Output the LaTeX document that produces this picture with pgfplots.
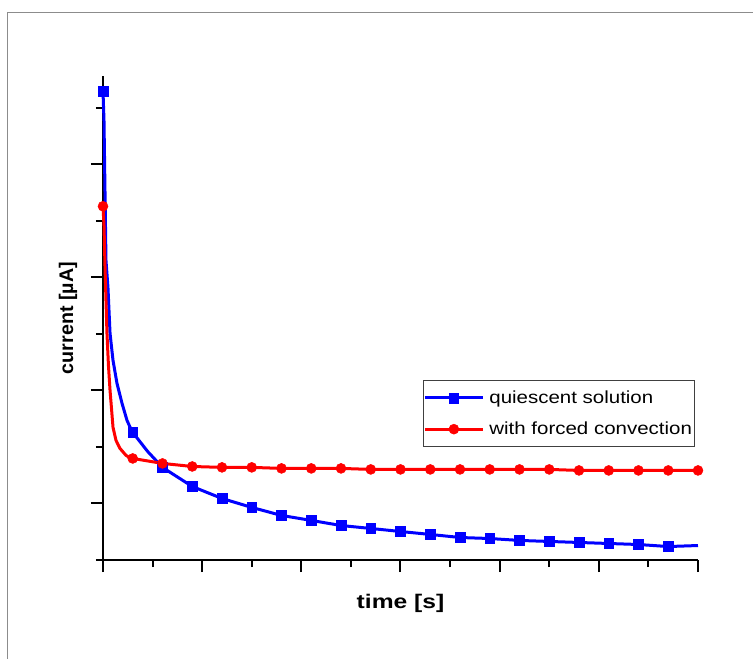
\documentclass[border=0pt]{standalone}
\usepackage{fontspec}
\usepackage{pgfplots}
\pgfplotsset{compat=1.18}
\setmainfont{Liberation Sans}
\newfontfamily\legfont[FakeStretch=1.17]{Liberation Sans}
\newfontfamily\labfont{Liberation Sans}
\definecolor{pblue}{RGB}{0,0,255}
\definecolor{pred}{RGB}{255,0,0}
\begin{document}
\begin{tikzpicture}
\useasboundingbox (-103pt,-99pt) rectangle (650pt,560pt);
\fill[white] (-103pt,-99pt) rectangle (650pt,560pt);
\draw[black!45, line width=1pt] (-95pt,-99pt) -- (-95pt,547pt) -- (650pt,547pt);
\begin{axis}[
  at={(0pt,0pt)}, anchor=south west,
  scale only axis, width=595pt, height=484pt,
  xmin=0, xmax=60, ymin=-0.5, ymax=3.78,
  axis lines=left, axis line style={-, line width=2pt},
  clip=false,
  xtick={0,10,20,30,40,50,60}, minor x tick num=1,
  ytick={0,1,2,3}, minor ytick={-0.5,0.5,1.5,2.5,3.5},
  xticklabels={}, yticklabels={},
  tick align=outside,
  major tick length=12pt, minor tick length=7pt,
  every tick/.style={black, line width=2pt},
  xlabel={\labfont\bfseries\fontsize{19.7}{22}\selectfont\addfontfeature{FakeStretch=1.25}time [s]},
  ylabel={\labfont\bfseries\fontsize{19.7}{22}\selectfont current [µA]},
  xlabel style={at={(axis description cs:0.5,0)}, anchor=base, yshift=-48pt},
  ylabel style={at={(axis description cs:0,0.5)}, anchor=center, yshift=35pt},
  legend style={at={(320pt,180pt)}, anchor=north west, draw=black!75, line width=0.8pt,
    inner xsep=0pt, inner ysep=9pt, row sep=14pt,
    font=\legfont\fontsize{17.5}{20}\selectfont,
    nodes={inner xsep=2pt, inner ysep=1.5pt},
    /tikz/every odd column/.append style={column sep=3pt}},
  legend cell align=left,
  legend image code/.code={
    \draw[#1, mark=none] (0pt,0pt) -- (58pt,0pt);
    \draw[#1, mark indices={1}] plot coordinates {(29pt,0pt)};
  },
]
\addplot[pblue, line width=3pt, mark=square*, mark size=4.8pt,
  mark options={solid, line width=0.5pt},
  mark indices={1,13,15,16,17,18,19,20,21,22,23,24,25,26,27,28,29,30,31,32}]
coordinates {
(0,3.646) (0.10,3.389) (0.2,2.77) (0.30,2.150) (0.5,1.912) (0.71,1.504) (1.01,1.265)
(1.41,1.062) (1.92,0.885) (2.42,0.735) (2.7,0.68) (2.85,0.655) (3,0.628) (4.5,0.460)
(6,0.319) (9,0.150) (12,0.044) (15,-0.035) (18,-0.106) (21,-0.150) (24,-0.195)
(27,-0.221) (30,-0.248) (33,-0.274) (36,-0.301) (39,-0.310) (42,-0.327) (45,-0.336)
(48,-0.345) (51,-0.354) (54,-0.363) (57,-0.381) (60,-0.372)
};
\addlegendentry{quiescent solution}
\addplot[pred, line width=3pt, mark=*, mark size=5pt,
  mark options={solid, line width=0.5pt},
  mark indices={1,13,14,15,16,17,18,19,20,21,22,23,24,25,26,27,28,29,30,31,32}]
coordinates {
(0,2.628) (0.1,2.46) (0.2,2.106) (0.3,1.80) (0.4,1.504) (0.55,1.22) (0.71,1.0)
(1.01,0.673) (1.31,0.558) (1.71,0.487) (2.32,0.425) (2.7,0.405) (3,0.398)
(6,0.354) (9,0.327) (12,0.319) (15,0.319) (18,0.310) (21,0.310) (24,0.310)
(27,0.301) (30,0.301) (33,0.301) (36,0.301) (39,0.301) (42,0.301) (45,0.301)
(48,0.292) (51,0.292) (54,0.292) (57,0.292) (60,0.292)
};
\addlegendentry{with forced convection}
\end{axis}
\end{tikzpicture}
\end{document}
